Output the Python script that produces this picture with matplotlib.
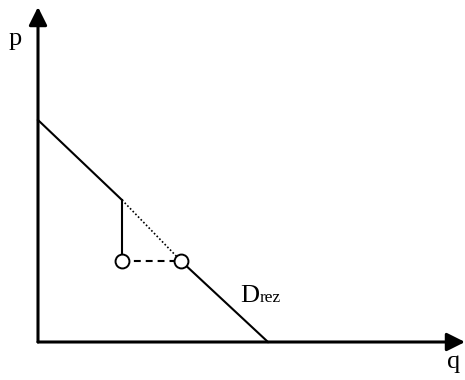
import matplotlib
matplotlib.use("Agg")
import matplotlib.pyplot as plt

# demand curve pieces (q, p), origin at the axes corner
UPPER_Q = [0, 84]
UPPER_P = [222, 142]
LOWER_Q = [143, 230]
LOWER_P = [81, 0]
DROP_Q = [84, 84]
DROP_P = [142, 81]
GAP_Q = [84, 143]
GAP_P = [81, 81]
DOT_Q = [84, 143]
DOT_P = [142, 81]
CIRCLE_Q = [84, 143]
CIRCLE_P = [81, 81]

Q_MAX = 427
P_MAX = 335

plt.rcParams["font.family"] = ["Liberation Serif", "DejaVu Serif"]


def main():
    fig = plt.figure(figsize=(4.65, 3.8), dpi=100)
    ax = fig.add_axes([0, 0, 1, 1])
    ax.set_xlim(-38, 427)
    ax.set_ylim(-38, 342)
    ax.axis("off")

    arrow = dict(arrowstyle="-|>,head_length=1.1,head_width=0.55",
                 mutation_scale=10, lw=2.2, color="black",
                 shrinkA=0, shrinkB=0)
    ax.annotate("", xy=(Q_MAX, 0), xytext=(0, 0), arrowprops=arrow)
    ax.annotate("", xy=(0, P_MAX), xytext=(0, 0), arrowprops=arrow)

    ax.plot(UPPER_Q, UPPER_P, color="black", lw=1.5)
    ax.plot(LOWER_Q, LOWER_P, color="black", lw=1.5)
    ax.plot(DROP_Q, DROP_P, color="black", lw=1.5)
    ax.plot(DOT_Q, DOT_P, color="black", lw=1.2, linestyle=(0, (1, 1.3)))
    ax.plot(GAP_Q, GAP_P, color="black", lw=1.5, linestyle=(0, (3.3, 2.4)))
    ax.plot(CIRCLE_Q, CIRCLE_P, "o", ms=10, mfc="white", mec="black",
            mew=1.4, zorder=5)

    ax.text(-23, 303, "p", fontsize=19, ha="center", va="center")
    ax.text(416, -20, "q", fontsize=19, ha="center", va="center")
    ax.text(202, 40, "D", fontsize=19, ha="left", va="baseline")
    ax.text(222, 40, "rez", fontsize=12.5, ha="left", va="baseline")

    fig.savefig("out.png", dpi=100)


if __name__ == "__main__":
    main()
